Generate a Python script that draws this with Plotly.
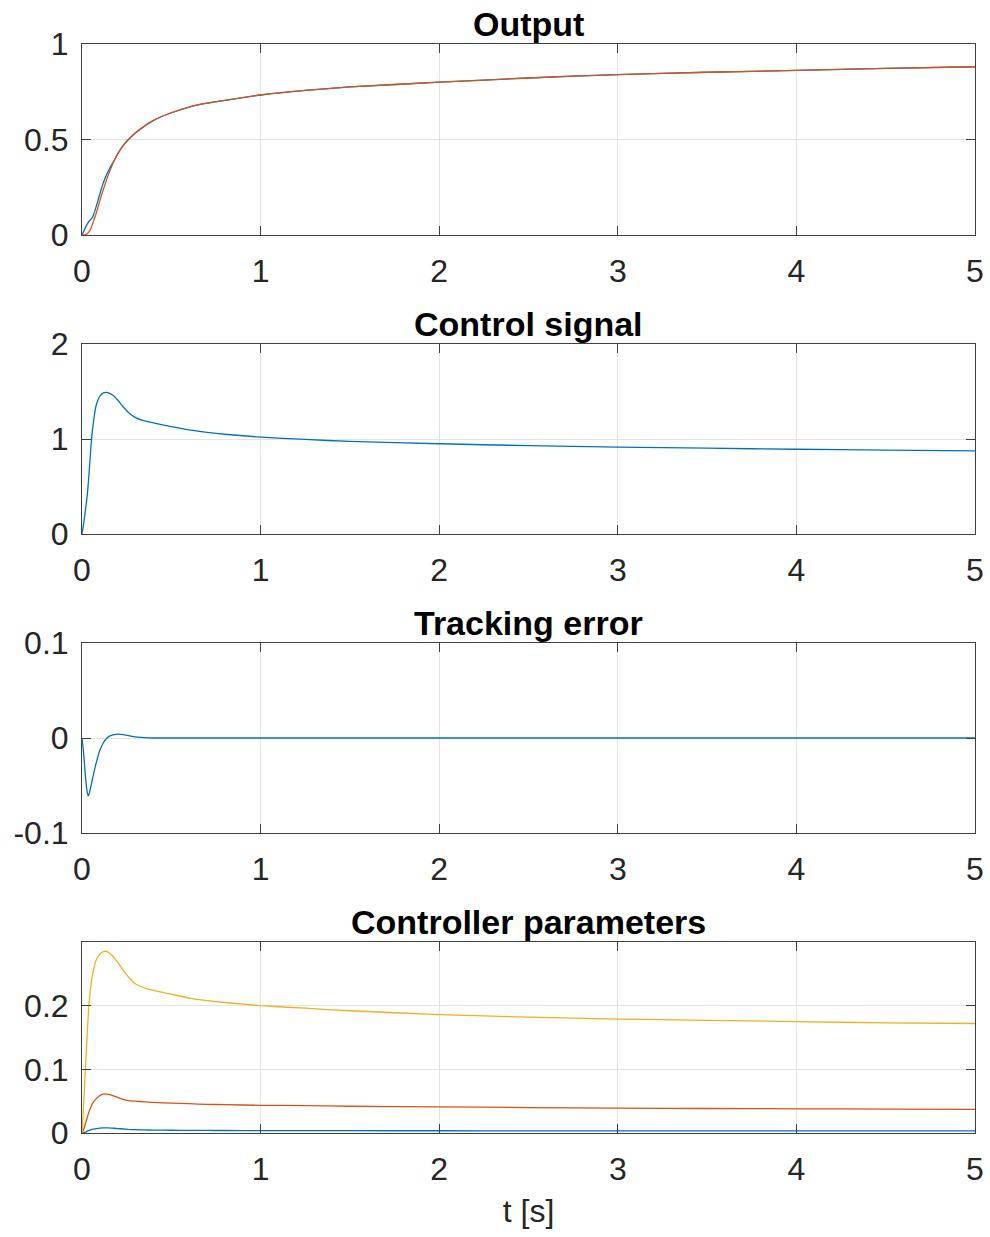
import plotly.graph_objects as go

# ---------------- data ----------------
t = [0, 0.01, 0.02, 0.03, 0.04, 0.05, 0.06, 0.08, 0.10, 0.12, 0.14, 0.16, 0.18, 0.20,
     0.23, 0.26, 0.30, 0.35, 0.40, 0.50, 0.60, 0.70, 0.80, 1.0, 1.25, 1.5, 2.0, 2.5,
     3.0, 3.5, 4.0, 4.5, 5.0]

output_ref = [0, 0.02, 0.04, 0.058, 0.072, 0.082, 0.095, 0.15, 0.215, 0.275, 0.32, 0.358,
              0.39, 0.425, 0.468, 0.50, 0.535, 0.57, 0.60, 0.64, 0.67, 0.69, 0.705, 0.733,
              0.757, 0.775, 0.80, 0.822, 0.84, 0.852, 0.862, 0.872, 0.881]
output_y = [0, 0.0, 0.002, 0.008, 0.018, 0.035, 0.06, 0.115, 0.18, 0.24, 0.295, 0.345,
            0.39, 0.425, 0.468, 0.50, 0.535, 0.57, 0.60, 0.64, 0.67, 0.69, 0.705, 0.733,
            0.757, 0.775, 0.80, 0.822, 0.84, 0.852, 0.862, 0.872, 0.881]

control_u = [0, 0.12, 0.26, 0.42, 0.65, 0.92, 1.12, 1.36, 1.45, 1.485, 1.49, 1.475, 1.45,
             1.41, 1.34, 1.28, 1.225, 1.19, 1.17, 1.13, 1.095, 1.07, 1.05, 1.02, 0.995,
             0.975, 0.95, 0.93, 0.915, 0.903, 0.892, 0.883, 0.875]

t_err = [0, 0.01, 0.02, 0.03, 0.035, 0.04, 0.05, 0.06, 0.08, 0.10, 0.12, 0.14, 0.16, 0.18,
         0.20, 0.23, 0.26, 0.30, 0.35, 0.40, 0.50, 1.0, 2.0, 3.0, 4.0, 5.0]
error_e = [0, -0.018, -0.042, -0.058, -0.061, -0.059, -0.051, -0.042, -0.026, -0.013,
           -0.005, 0.0, 0.0025, 0.0035, 0.004, 0.0035, 0.0025, 0.0012, 0.0004, 0.0,
           0.0, 0.0, 0.0, 0.0, 0.0, 0.0]

param_1 = [0, 0.0005, 0.0015, 0.003, 0.004, 0.005, 0.006, 0.007, 0.0078, 0.008, 0.008,
           0.0078, 0.0075, 0.007, 0.0063, 0.0057, 0.0052, 0.0048, 0.0046, 0.0043, 0.0041,
           0.004, 0.0039, 0.0038, 0.0037, 0.0036, 0.0035, 0.0034, 0.0034, 0.0033, 0.0033,
           0.0033, 0.0032]
param_2 = [0, 0.006, 0.015, 0.025, 0.034, 0.041, 0.047, 0.054, 0.059, 0.061, 0.061, 0.060,
           0.058, 0.056, 0.053, 0.051, 0.050, 0.049, 0.048, 0.047, 0.046, 0.045, 0.0445,
           0.0435, 0.043, 0.042, 0.041, 0.040, 0.039, 0.0385, 0.038, 0.0375, 0.037]
param_3 = [0, 0.05, 0.105, 0.16, 0.205, 0.232, 0.25, 0.272, 0.281, 0.285, 0.285, 0.281,
           0.275, 0.268, 0.256, 0.245, 0.234, 0.228, 0.224, 0.218, 0.212, 0.208, 0.205,
           0.200, 0.196, 0.192, 0.186, 0.182, 0.179, 0.177, 0.175, 0.173, 0.172]

titles = ["Output", "Control signal", "Tracking error", "Controller parameters"]
x_ticks = [0, 1, 2, 3, 4, 5]
y_ticks = [[0, 0.5, 1], [0, 1, 2], [-0.1, 0, 0.1], [0, 0.1, 0.2]]
y_ticktext = [["0", "0.5", "1"], ["0", "1", "2"], ["-0.1", "0", "0.1"], ["0", "0.1", "0.2"]]
y_ranges = [[0, 1], [0, 2], [-0.1, 0.1], [0, 0.3]]
x_label = "t [s]"

# ---------------- style ----------------
W, H = 990, 1237
C1, C2, C3 = "#0072BD", "#D95319", "#EDB120"
FONT = "Liberation Sans, Arial, Helvetica, sans-serif"
TXT = "#262626"
AX = "#404040"
GRID = "#e3e3e3"
LW = 1.3
TICKSIZE = 32
TITLESIZE = 34

# pixel boxes (top, bottom) of each panel
px_left, px_right = 82, 975
boxes = [(44, 235), (344, 534), (643, 833), (942, 1133)]

fig = go.Figure()

def add(x, y, color, row):
    fig.add_trace(go.Scatter(x=x, y=y, mode="lines", line=dict(color=color, width=LW,
                  shape="spline", smoothing=0.5),
                  xaxis="x" if row == 1 else f"x{row}",
                  yaxis="y" if row == 1 else f"y{row}", showlegend=False))

add(t, output_ref, C1, 1)
add(t, output_y, C2, 1)
add(t, control_u, C1, 2)
add(t_err, error_e, C1, 3)
add(t, param_1, C1, 4)
add(t, param_2, C2, 4)
add(t, param_3, C3, 4)

layout = dict(width=W, height=H, margin=dict(l=0, r=0, t=0, b=0, pad=0, autoexpand=False),
              paper_bgcolor="white", plot_bgcolor="white", showlegend=False,
              font=dict(family=FONT, color=TXT))
annotations = []
xd = [px_left / W, px_right / W]
for i, (top, bot) in enumerate(boxes):
    r = i + 1
    sx = "" if r == 1 else str(r)
    yd = [(H - bot) / H, (H - top) / H]
    layout[f"xaxis{sx}"] = dict(
        domain=xd, anchor=f"y{sx}", range=[0, 5], tickvals=x_ticks,
        ticktext=[str(v) for v in x_ticks], automargin=False,
        ticks="inside", ticklen=9, tickcolor=AX, tickwidth=1,
        showline=True, linecolor=AX, linewidth=1, mirror="ticks",
        showgrid=True, gridcolor=GRID, gridwidth=1, zeroline=False,
        tickfont=dict(size=TICKSIZE, color=TXT, family=FONT), ticklabelstandoff=8)
    layout[f"yaxis{sx}"] = dict(
        domain=yd, anchor=f"x{sx}", range=y_ranges[i], tickvals=y_ticks[i],
        ticktext=y_ticktext[i], automargin=False,
        ticks="inside", ticklen=9, tickcolor=AX, tickwidth=1,
        showline=True, linecolor=AX, linewidth=1, mirror="ticks",
        showgrid=True, gridcolor=GRID, gridwidth=1, zeroline=False,
        tickfont=dict(size=TICKSIZE, color=TXT, family=FONT), ticklabelstandoff=6)
    annotations.append(dict(text=f"<b>{titles[i]}</b>", xref="paper", yref="paper",
                            x=(xd[0] + xd[1]) / 2, y=yd[1], xanchor="center",
                            yanchor="bottom", showarrow=False, yshift=-1,
                            font=dict(size=TITLESIZE, color="black", family=FONT)))

layout["xaxis4"]["title"] = dict(text=x_label, font=dict(size=TICKSIZE, color=TXT, family=FONT),
                                 standoff=13)
layout["annotations"] = annotations
fig.update_layout(**layout)
fig.write_html("out.html")
